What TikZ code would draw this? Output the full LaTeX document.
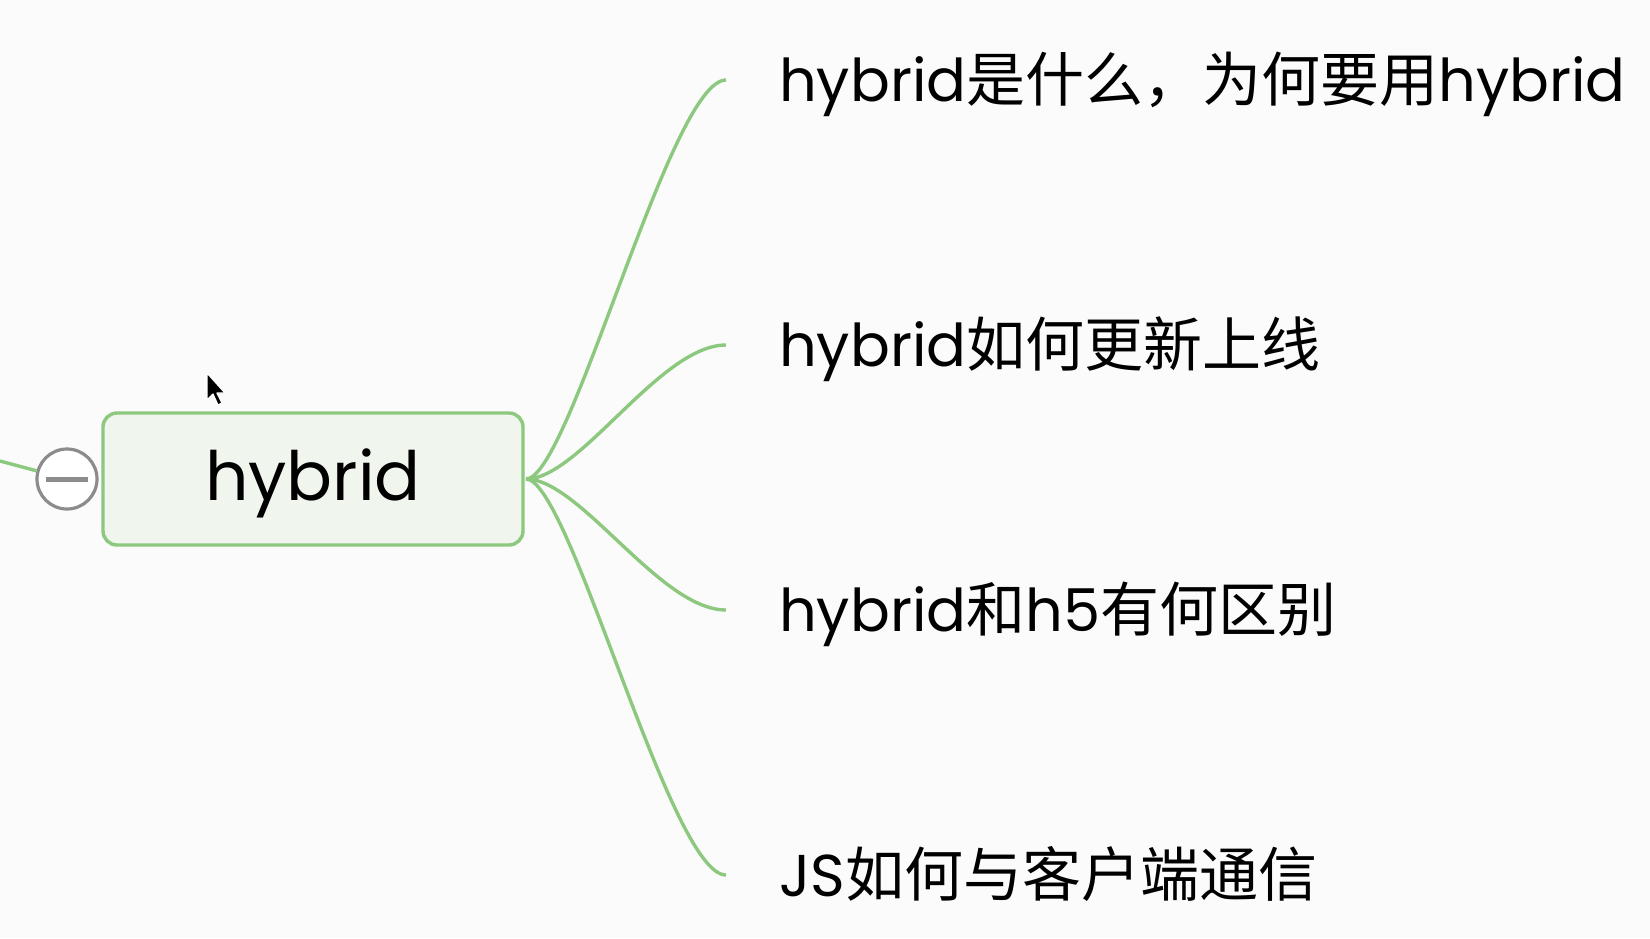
\documentclass[tikz,border=0pt]{standalone}
\usepackage{fontspec}
\setmainfont{Poppins}
\newfontfamily\cjk{Noto Sans CJK SC}
\definecolor{bgc}{HTML}{FBFBFB}
\definecolor{brc}{HTML}{8DC87F}
\definecolor{boxfill}{HTML}{F0F6EE}
\definecolor{circc}{HTML}{8C8C8C}
\begin{document}
\begin{tikzpicture}[x=1pt,y=-1pt]
\tikzset{
  branch/.style={draw=brc,line width=3.4pt},
  leaf/.style={anchor=base west,inner sep=0pt,font=\fontsize{59}{68}\selectfont,text=black},
}
\fill[bgc] (0,0) rectangle (1650,938);
\useasboundingbox (0,0) rectangle (1650,938);
% central box
\node[draw=brc,line width=3.4pt,fill=boxfill,rounded corners=14pt,minimum width=420pt,minimum height=132pt,inner sep=0pt] (root) at (313,479) {};
\node[anchor=base,inner sep=0pt,font=\fontsize{68}{76}\selectfont] (roottext) at (313,500) {hybrid};
\coordinate (src) at (526,479);
% collapse button
\coordinate (lend) at (0,461);
\node[circle,draw=circc,line width=3.2pt,fill=white,minimum size=60pt,inner sep=0pt] (btn) at (67,479) {};
\draw[branch] (lend) -- (btn);
\draw[circc,line width=5pt] ([xshift=-21pt]btn.center) -- ([xshift=21pt]btn.center);
% leaves
\coordinate (e1) at (726,80);
\coordinate (e2) at (726,345);
\coordinate (e3) at (726,610);
\coordinate (e4) at (726,875);
\node[leaf] (t1) at (779,101) {hybrid{\cjk 是什么，为何要用}hybrid};
\node[leaf] (t2) at (779,366) {hybrid{\cjk 如何更新上线}};
\node[leaf] (t3) at (779,631) {hybrid{\cjk 和}h5{\cjk 有何区别}};
\node[leaf] (t4) at (779,896) {JS{\cjk 如何与客户端通信}};
\draw[branch] (src) .. controls (570,479) and (670,80) .. (e1);
\draw[branch] (src) .. controls (580,479) and (660,345) .. (e2);
\draw[branch] (src) .. controls (580,479) and (660,610) .. (e3);
\draw[branch] (src) .. controls (570,479) and (670,875) .. (e4);
% mouse cursor
\filldraw[fill=black,draw=white,line width=1.2pt,line join=round] (207,373) -- (207,400) -- (213,394) -- (218,405) -- (222,403) -- (217,393) -- (225,393) -- cycle;
\end{tikzpicture}
\end{document}
